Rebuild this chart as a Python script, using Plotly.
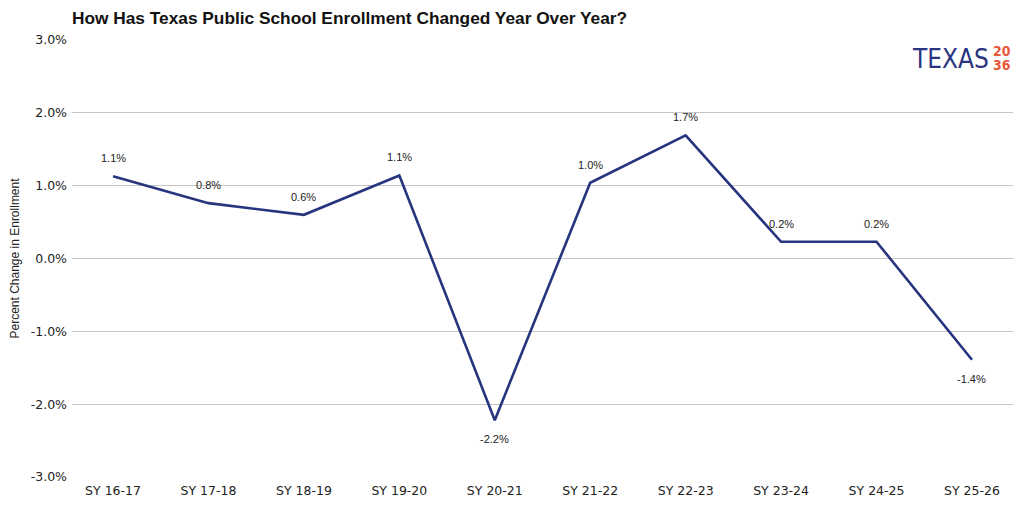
import plotly.graph_objects as go

categories = ["SY 16-17", "SY 17-18", "SY 18-19", "SY 19-20", "SY 20-21",
              "SY 21-22", "SY 22-23", "SY 23-24", "SY 24-25", "SY 25-26"]
pct_change = [1.13, 0.76, 0.60, 1.14, -2.22, 1.04, 1.69, 0.23, 0.23, -1.39]
y_ticks = [3, 2, 1, 0, -1, -2, -3]

# page body has an 8px default margin; figure is sized to fit the window
W, H, OFF = 1016, 498, 8
PL, PT, PR, PB = 72 - OFF, 40 - OFF, 11, 29

LINE = "#27357f"
fig = go.Figure()
fig.add_trace(go.Scatter(
    x=categories, y=pct_change, mode="lines",
    line=dict(color=LINE, width=2.6), hoverinfo="skip", showlegend=False))

for c, v in zip(categories, pct_change):
    fig.add_annotation(x=c, y=v, text=f"{v:.1f}%", showarrow=False,
                       yshift=(-19 if v < 0 else 18),
                       font=dict(family="Liberation Sans, Arial", size=11, color="#222"))

fig.update_layout(
    width=W, height=H,
    margin=dict(l=PL, r=PR, t=PT, b=PB),
    paper_bgcolor="white", plot_bgcolor="white",
    title=dict(text="<b>How Has Texas Public School Enrollment Changed Year Over Year?</b>",
               x=PL / W, xanchor="left", xref="container", y=1 - (17.5 - OFF) / H, yanchor="middle",
               yref="container", automargin=False,
               font=dict(family="Liberation Sans, Arial", size=17.3, color="#111")),
    xaxis=dict(type="category", range=[-0.43, 9.43], showgrid=False, showline=False,
               automargin=False,
               ticks="", tickfont=dict(family="DejaVu Sans, Liberation Sans", size=12.5, color="#222"),
               ticklabelstandoff=4),
    yaxis=dict(range=[-3, 3], tickvals=y_ticks, automargin=False,
               ticktext=[f"{t:.1f}%" for t in y_ticks],
               showgrid=True, gridcolor="#c6c6c6", gridwidth=1.3,
               zeroline=True, zerolinecolor="#c6c6c6", zerolinewidth=1.3,
               ticks="", ticklabelstandoff=4,
               tickfont=dict(family="DejaVu Sans, Liberation Sans", size=12.5, color="#222"),
               title=dict(text="Percent Change in Enrollment", standoff=10,
                          font=dict(family="Liberation Sans, Arial", size=12, color="#222"))),
)

LOGO_FONT = "Liberation Sans Narrow, DejaVu Sans Condensed, Liberation Sans"
fig.add_annotation(xref="paper", yref="paper", x=(991-72)/941, y=(477-59)/437,
                   xanchor="right", yanchor="middle", showarrow=False,
                   text="TEXAS", font=dict(family=LOGO_FONT, size=26, color="#2a3480"))
fig.add_annotation(xref="paper", yref="paper", x=(1002-72)/941, y=(477-51)/437,
                   xanchor="center", yanchor="middle", showarrow=False,
                   text="<b>20</b>", font=dict(family=LOGO_FONT, size=14, color="#e8573b"))
fig.add_annotation(xref="paper", yref="paper", x=(1002-72)/941, y=(477-65)/437,
                   xanchor="center", yanchor="middle", showarrow=False,
                   text="<b>36</b>", font=dict(family=LOGO_FONT, size=14, color="#e8573b"))

fig.write_html("out.html")
